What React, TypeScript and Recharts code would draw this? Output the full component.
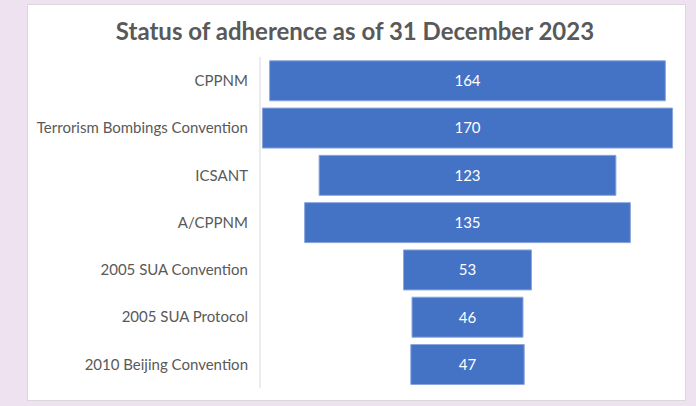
import React from 'react';
import { BarChart, Bar, XAxis, YAxis, LabelList } from 'recharts';

const categories = [
  'CPPNM',
  'Terrorism Bombings Convention',
  'ICSANT',
  'A/CPPNM',
  '2005 SUA Convention',
  '2005 SUA Protocol',
  '2010 Beijing Convention',
];
const values = [164, 170, 123, 135, 53, 46, 47];

const maxValue = Math.max(...values);
const data = categories.map((name, i) => ({
  name,
  offset: (maxValue - values[i]) / 2,
  value: values[i],
}));

const FONT = 'Lato, "Open Sans", sans-serif';

export default function App() {
  return (
    <div
      style={{
        position: 'fixed',
        left: 0,
        top: 0,
        width: 696,
        height: 406,
        background: '#EEE2F1',
        fontFamily: FONT,
      }}
    >
      <div
        style={{
          position: 'absolute',
          left: 27,
          top: 4,
          width: 657,
          height: 395,
          background: '#FFFFFF',
          border: '1px solid #D9D9D9',
        }}
      />
      <div
        style={{
          position: 'absolute',
          left: 0,
          top: 15,
          width: 710,
          textAlign: 'center',
          fontSize: 24,
          lineHeight: '32px',
          fontWeight: 700,
          color: '#595959',
        }}
      >
        Status of adherence as of 31 December 2023
      </div>
      <div style={{ position: 'absolute', left: 0, top: 0 }}>
        <BarChart
          width={696}
          height={406}
          data={data}
          layout="vertical"
          margin={{ top: 57, right: 21, bottom: 18, left: 0 }}
          barCategoryGap="8%"
        >
          <XAxis type="number" hide domain={[-1, 171]} />
          <YAxis
            type="category"
            dataKey="name"
            width={260}
            tickLine={false}
            tickMargin={6}
            axisLine={{ stroke: '#D9D9D9' }}
            tick={{ fill: '#595959', fontSize: 15, fontFamily: FONT }}
            interval={0}
          />
          <Bar dataKey="offset" stackId="a" fill="transparent" isAnimationActive={false} />
          <Bar
            dataKey="value"
            stackId="a"
            fill="#4472C4"
            stroke="#8AA6DC"
            strokeWidth={1}
            isAnimationActive={false}
          >
            <LabelList
              dataKey="value"
              position="center"
              fill="#FFFFFF"
              fontSize={15}
              fontFamily={FONT}
            />
          </Bar>
        </BarChart>
      </div>
    </div>
  );
}
